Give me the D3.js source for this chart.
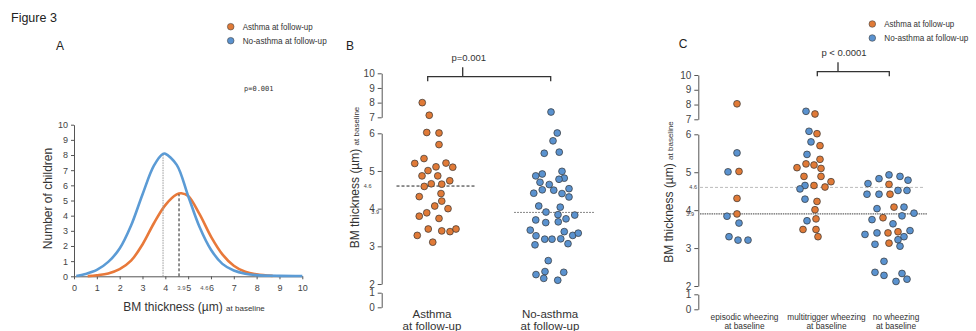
<!DOCTYPE html>
<html><head><meta charset="utf-8">
<script src="https://cdn.jsdelivr.net/npm/d3@7"></script>
<style>
html,body{margin:0;padding:0;background:#fff;}
svg{display:block;font-family:"Liberation Sans",Arial,sans-serif;}
</style></head>
<body><svg id="chart" width="976" height="331"></svg>
<script>
// ---------------- DATA ----------------
const seriesNames = ["Asthma at follow-up", "No-asthma at follow-up"];
const axisTicks = [0,1,2,3,4,5,6,7,8,9,10];
const meanLabels = ["3.9", "4.6"];
const meanNoAsthma = 3.9, meanAsthma = 4.6;
const pValueA = "p=0.001", pValueB = "p=0.001", pValueC = "p < 0.0001";

// Panel A: distribution curves (x = BM thickness, y = number of children)
const distNoAsthmaX = [0.1,0.5,1,1.5,2,2.5,3,3.5,3.9,4.0,4.5,5,5.5,6,6.5,7,7.5,8,9,10];
const distNoAsthmaY = [0.02,0.15,0.42,0.95,1.83,3.35,5.4,7.3,8.08,8.08,7.35,5.3,3.25,1.75,0.82,0.38,0.17,0.08,0.03,0.02];
const distAsthmaX = [0.6,1,1.5,2,2.5,3,3.5,4,4.5,4.7,5,5.5,6,6.5,7,7.5,8,8.7];
const distAsthmaY = [0.01,0.07,0.19,0.47,1.03,2.1,3.5,4.7,5.4,5.48,5.3,4.1,2.62,1.45,0.7,0.3,0.13,0.03];

// Panel B: individual values, with horizontal swarm offset (-1..1)
const groupsB = ["Asthma\nat follow-up", "No-asthma\nat follow-up"];
const asthmaB = [8.0,7.14,6.05,6.02,5.70,5.33,5.20,5.11,5.21,5.10,5.01,4.87,4.87,4.74,4.66,4.65,4.59,4.32,4.40,4.20,4.07,4.00,3.80,3.89,3.74,3.46,3.41,3.39,3.46,3.29,3.11];
const asthmaBSpread = [-0.55,-0.27,-0.37,0.12,0.12,-0.48,-0.85,0,0.4,0.67,-0.32,-0.56,0.07,0.55,-0.19,0.23,-0.47,-0.67,0.2,0.23,-0.05,0.48,-0.67,-0.37,0.12,-0.31,0.23,0.56,0.8,-0.75,-0.13];
const noAsthmaB = [7.36,6.02,5.80,5.50,5.47,4.99,4.92,4.87,4.81,4.78,4.70,4.64,4.53,4.50,4.49,4.41,4.40,4.31,4.07,4.04,3.91,3.84,3.83,3.73,3.70,3.63,3.65,3.43,3.39,3.28,3.19,3.19,3.20,3.29,3.35,3.04,3.07,2.62,2.25,2.33,2.31,2.15,2.10];
const noAsthmaBSpread = [-0.12,0.13,-0.04,0.21,-0.39,0.32,-0.47,-0.73,0.41,0.2,-0.56,-0.19,0.6,-0.47,-0.01,-0.81,0.32,0.6,-0.61,0.25,-0.32,0.16,0.83,0.48,-0.73,-0.33,0.17,-0.95,0.41,-0.72,-0.37,-0.08,0.27,0.75,0.97,-0.76,0.56,-0.23,-0.72,-0.36,0.39,-0.41,0.15];

// Panel C: [value, outcome (A = asthma, N = no asthma), swarm offset]
const groupsC = ["episodic wheezing\nat baseline", "multitrigger wheezing\nat baseline", "no wheezing\nat baseline"];
const episodicC = [[8.05,"A",0],[5.51,"N",0],[5.01,"N",-0.36],[5.02,"A",0.08],[4.31,"A",0],[3.90,"A",0],[3.84,"N",-0.4],[3.66,"N",0.08],[3.30,"N",-0.32],[3.21,"N",0.04],[3.21,"N",0.44]];
const multitriggerC = [[7.54,"N",-0.28],[7.36,"A",0.08],[6.2,"N",-0.16],[6.04,"A",0.16],[5.80,"N",-0.08],[5.70,"A",0.28],[5.47,"N",-0.24],[5.34,"A",0.28],[5.22,"A",-0.28],[5.19,"A",0.04],[5.12,"A",-0.64],[5.10,"A",0.32],[4.89,"A",-0.36],[4.89,"A",0.32],[4.75,"A",0.72],[4.65,"N",-0.32],[4.65,"A",0.04],[4.61,"A",0.48],[4.56,"N",-0.52],[4.29,"N",-0.32],[4.23,"A",0.16],[4.01,"A",0.08],[3.77,"A",0.12],[3.72,"N",-0.24],[3.49,"A",-0.4],[3.49,"A",0.12],[3.30,"A",0.2]];
const noWheezeC = [[4.93,"N",0],[4.83,"N",-0.4],[4.89,"N",0.44],[4.79,"N",0.76],[4.70,"N",-0.84],[4.68,"A",0],[4.42,"N",-0.88],[4.42,"N",-0.4],[4.42,"A",0.04],[4.52,"N",0.36],[4.52,"N",0.72],[4.04,"N",-0.48],[4.08,"A",0.2],[4.08,"N",0.6],[3.92,"N",1.0],[3.80,"A",-0.24],[3.75,"N",-0.68],[3.85,"N",0.52],[3.64,"N",0.16],[3.36,"N",-0.96],[3.40,"N",-0.48],[3.40,"A",-0.04],[3.43,"A",0.36],[3.46,"N",0.84],[3.30,"N",0.6],[3.22,"N",0.36],[3.10,"N",-0.56],[3.13,"A",0],[3.05,"N",0.44],[2.65,"N",-0.2],[2.36,"N",-0.56],[2.28,"N",-0.2],[2.33,"N",0.52],[2.18,"N",0.72],[2.12,"N",0.28]];

// ---------------- STYLE ----------------
const ORANGE = "#E8793A", BLUE = "#5B9BD5";
const DOT_O = "#E07A37", DOT_B = "#5A92CF";
const AXIS = "#555", TXT = "#333";
const intFmt = d3.format("d");

const svg = d3.select("#chart");
svg.append("rect").attr("width",976).attr("height",331).attr("fill","#fff");

svg.append("text").attr("x",11).attr("y",22).attr("font-size",12.5).attr("fill","#222").text("Figure 3");

function styleAxis(g, fs){
  g.selectAll("path,line").attr("stroke",AXIS).attr("stroke-width",1);
  g.selectAll("text").attr("fill","#444").attr("font-size",fs).attr("font-family","'Liberation Sans',Arial,sans-serif");
}
function legend(x, y){
  const g = svg.append("g");
  seriesNames.forEach((n,i)=>{
    g.append("circle").attr("cx",x).attr("cy",y+i*14).attr("r",3.3)
      .attr("fill", i===0?DOT_O:DOT_B).attr("stroke","#444").attr("stroke-width",0.6);
    g.append("text").attr("x",x+12).attr("y",y+i*14+3.3).attr("font-size",8.6).attr("fill",TXT)
      .attr("textLength", i===0?70:84).attr("lengthAdjust","spacingAndGlyphs").text(n);
  });
}

// ---------------- PANEL A ----------------
svg.append("text").attr("x",60).attr("y",50).attr("text-anchor","middle").attr("font-size",12).attr("fill","#222").text("A");
legend(230.7, 26.7);
svg.append("text").attr("x",244).attr("y",91).attr("font-size",7).attr("fill","#333")
  .attr("font-family","'DejaVu Sans Mono',monospace").text(pValueA);

const xA = d3.scaleLinear().domain([0,10]).range([74,302.3]);
const yA = d3.scaleLinear().domain([0,10]).range([276.3,124.7]);
svg.append("g").attr("transform","translate(0,276.3)")
  .call(d3.axisBottom(xA).tickValues(axisTicks).tickFormat(intFmt).tickSize(3).tickSizeOuter(0).tickPadding(5))
  .call(g=>styleAxis(g,9));
svg.append("g").attr("transform","translate(74,0)")
  .call(d3.axisLeft(yA).tickValues(axisTicks).tickFormat(intFmt).tickSize(3).tickSizeOuter(0).tickPadding(3))
  .call(g=>styleAxis(g,9));
// small mean labels under the axis next to 5 and 6
[[5,meanLabels[0]],[6,meanLabels[1]]].forEach(([t,l])=>{
  svg.append("text").attr("x",xA(t)-2.5).attr("y",289.5).attr("text-anchor","end")
    .attr("font-size",6).attr("fill","#555").text(l);
});
svg.append("text").attr("transform","translate(51.5,198.5) rotate(-90)").attr("text-anchor","middle")
  .attr("font-size",12).attr("fill",TXT).text("Number of children");
svg.append("text").attr("x",194).attr("y",311).attr("text-anchor","middle").attr("fill",TXT)
  .call(t=>{t.append("tspan").attr("font-size",12).text("BM thickness (µm) ");
            t.append("tspan").attr("font-size",8).text("at baseline");});

const lineA = d3.line().x(d=>xA(d[0])).y(d=>yA(d[1])).curve(d3.curveCatmullRom.alpha(0.5));
svg.append("path").datum(distAsthmaX.map((x,i)=>[x,distAsthmaY[i]]))
  .attr("d",lineA).attr("fill","none").attr("stroke",ORANGE).attr("stroke-width",2.6);
svg.append("path").datum(distNoAsthmaX.map((x,i)=>[x,distNoAsthmaY[i]]))
  .attr("d",lineA).attr("fill","none").attr("stroke",BLUE).attr("stroke-width",2.6);
svg.append("line").attr("x1",xA(meanNoAsthma)).attr("x2",xA(meanNoAsthma)).attr("y1",yA(0)).attr("y2",yA(8.0))
  .attr("stroke","#999").attr("stroke-width",1).attr("stroke-dasharray","1.5,1");
svg.append("line").attr("x1",xA(meanAsthma)).attr("x2",xA(meanAsthma)).attr("y1",yA(0)).attr("y2",yA(5.4))
  .attr("stroke","#222").attr("stroke-width",1).attr("stroke-dasharray","3,2");

// ---------------- broken axis helper ----------------
const segments = [[0,1],[2,6],[7,10]];
function brokenAxis(y, x0){
  segments.forEach(seg=>{
    const s = d3.scaleLinear().domain(seg).range(seg.map(y));
    svg.append("g").attr("transform",`translate(${x0},0)`)
      .call(d3.axisLeft(s).tickValues(d3.range(seg[0],seg[1]+1)).tickFormat(intFmt).tickSize(4).tickSizeOuter(0).tickPadding(3))
      .call(g=>styleAxis(g,10));
  });
}
function yLabel(x, yc){
  svg.append("text").attr("transform",`translate(${x},${yc}) rotate(-90)`).attr("text-anchor","middle").attr("fill",TXT)
    .call(t=>{t.append("tspan").attr("font-size",12).text("BM thickness (µm) ");
              t.append("tspan").attr("font-size",8).text("at baseline");});
}
function bracket(x1,x2,xm,y,text){
  const g = svg.append("g").attr("fill","none").attr("stroke","#333").attr("stroke-width",1.3);
  g.append("path").attr("d",`M${x1},${y+4.5}V${y}H${x2}V${y+4.5}M${xm},${y}V${y-9.5}`);
  svg.append("text").attr("x",xm+6).attr("y",y-16).attr("text-anchor","middle").attr("font-size",9.5).attr("fill",TXT).text(text);
}
function multiLabel(x, y, txt, fs, lh){
  const t = svg.append("text").attr("x",x).attr("y",y).attr("text-anchor","middle").attr("font-size",fs).attr("fill",TXT);
  txt.split("\n").forEach((s,i)=>t.append("tspan").attr("x",x).attr("dy",i?lh:0).text(s));
}

// ---------------- PANEL B ----------------
svg.append("text").attr("x",350).attr("y",50).attr("text-anchor","middle").attr("font-size",12).attr("fill","#222").text("B");
const yB = d3.scaleLinear().domain([0,1,2,6,7,10]).range([307.3,292.7,284,133.3,117.3,73.3]);
const xB = d3.scalePoint().domain(groupsB).range([436,554]);
const spreadB = d3.scaleLinear().domain([-1,1]).range([-25,25]);
brokenAxis(yB, 381.7);
yLabel(358.5, 177.5);
svg.append("text").attr("x",371.5).attr("y",yB(meanAsthma)+2).attr("text-anchor","end").attr("font-size",5.5).attr("fill","#444").text(meanLabels[1]);
svg.append("text").attr("x",379).attr("y",yB(meanNoAsthma)+2).attr("text-anchor","end").attr("font-size",5.5).attr("fill","#444").text(meanLabels[0]);
bracket(427.7,550.7,462.7,76.7,pValueB);

svg.append("line").attr("x1",xB(groupsB[0])-39.5).attr("x2",xB(groupsB[0])+39.5).attr("y1",yB(meanAsthma)).attr("y2",yB(meanAsthma))
  .attr("stroke","#222").attr("stroke-width",1).attr("stroke-dasharray","3,2");
svg.append("line").attr("x1",xB(groupsB[1])-40).attr("x2",xB(groupsB[1])+40).attr("y1",yB(meanNoAsthma)).attr("y2",yB(meanNoAsthma))
  .attr("stroke","#888").attr("stroke-width",1).attr("stroke-dasharray","2,1");

const dotsB = asthmaB.map((v,i)=>({g:groupsB[0],v,s:asthmaBSpread[i],c:DOT_O}))
  .concat(noAsthmaB.map((v,i)=>({g:groupsB[1],v,s:noAsthmaBSpread[i],c:DOT_B})));
svg.append("g").selectAll("circle").data(dotsB).join("circle")
  .attr("cx",d=>xB(d.g)+spreadB(d.s)).attr("cy",d=>yB(d.v)).attr("r",3.4)
  .attr("fill",d=>d.c).attr("stroke","#333").attr("stroke-width",0.7);
groupsB.forEach((g,i)=>multiLabel(xB(g)-4,317.5,g,11.5,12.7));

// ---------------- PANEL C ----------------
svg.append("text").attr("x",683).attr("y",47.5).attr("text-anchor","middle").attr("font-size",12).attr("fill","#222").text("C");
legend(872.3, 24);
const yC = d3.scaleLinear().domain([0,1,2,6,7,10]).range([309.3,294.3,286,134.3,119.3,75]);
const xC = d3.scalePoint().domain(groupsC).range([737,889]);
const spreadC = d3.scaleLinear().domain([-1,1]).range([-25,25]);
brokenAxis(yC, 698.3);
yLabel(672.5, 192);
svg.append("text").attr("x",697).attr("y",yC(meanAsthma)+2).attr("text-anchor","end").attr("font-size",5.5).attr("fill","#444").text(meanLabels[1]);
svg.append("text").attr("x",694).attr("y",yC(meanNoAsthma)+2).attr("text-anchor","end").attr("font-size",5.5).attr("fill","#444").text(meanLabels[0]);
bracket(817.3,889.3,838,71.7,pValueC);

svg.append("line").attr("x1",700).attr("x2",925).attr("y1",yC(meanAsthma)).attr("y2",yC(meanAsthma))
  .attr("stroke","#bbb").attr("stroke-width",1).attr("stroke-dasharray","3,2");
svg.append("line").attr("x1",700).attr("x2",927).attr("y1",yC(meanNoAsthma)).attr("y2",yC(meanNoAsthma))
  .attr("stroke","#666").attr("stroke-width",1.3).attr("stroke-dasharray","1.5,0.8");

const dotsC = [episodicC, multitriggerC, noWheezeC].flatMap((arr,gi)=>arr.map(d=>({g:groupsC[gi],v:d[0],c:d[1]==="A"?DOT_O:DOT_B,s:d[2]})));
svg.append("g").selectAll("circle").data(dotsC).join("circle")
  .attr("cx",d=>xC(d.g)+spreadC(d.s)).attr("cy",d=>yC(d.v)).attr("r",3.4)
  .attr("fill",d=>d.c).attr("stroke","#333").attr("stroke-width",0.7);
const labelShift = [7.5, 13.5, 7];
groupsC.forEach((g,i)=>multiLabel(xC(g)+labelShift[i],319.5,g,8.3,9.5));
</script></body></html>
